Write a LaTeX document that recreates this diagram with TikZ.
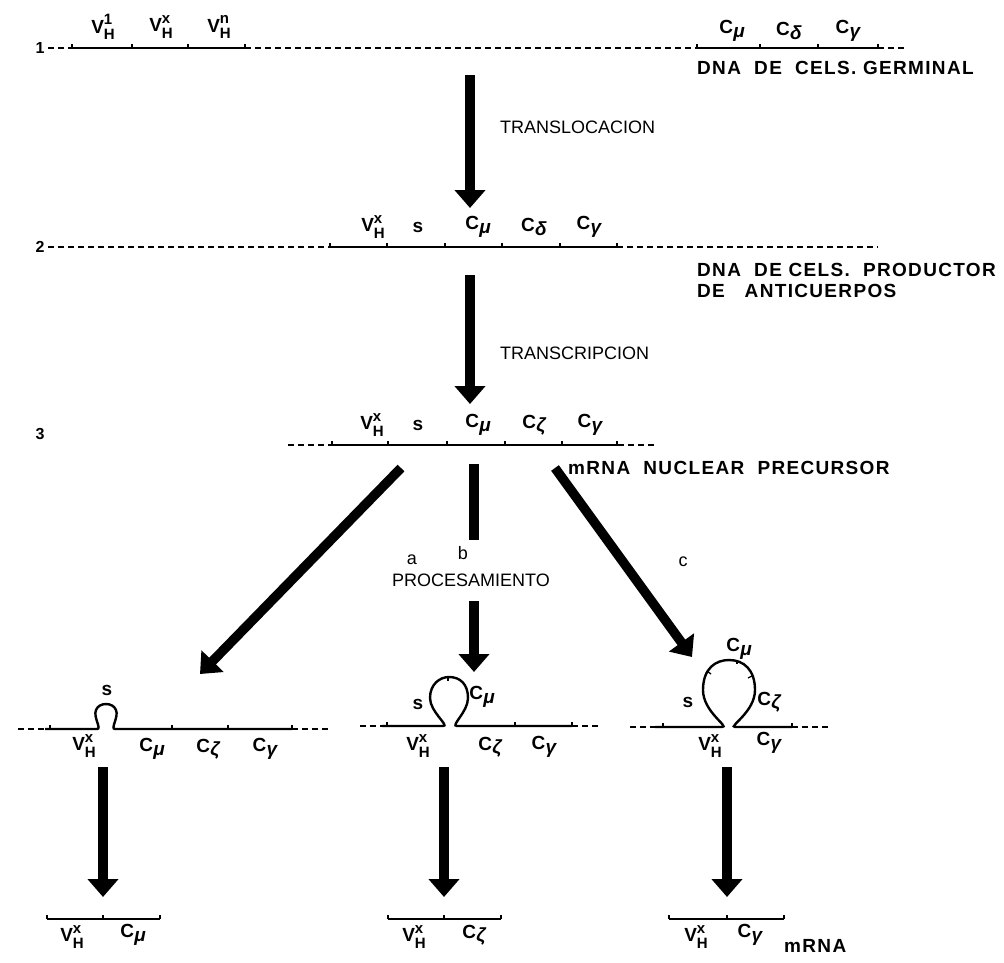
\documentclass[tikz,border=0pt]{standalone}
\usepackage{fontspec}
\setmainfont{Liberation Sans}
\usetikzlibrary{arrows.meta}
\newcommand\Cg[1]{C\kern0.3pt\raisebox{-0.35ex}{\itshape #1}}
\newcommand\Vh[1]{V\kern-0.3pt\rlap{\raisebox{0.85ex}{\fontsize{15}{15}\selectfont #1}}\raisebox{-0.65ex}{\fontsize{15}{15}\selectfont H}}
\begin{document}
\begin{tikzpicture}[x=1pt,y=-1pt,
  dna/.style={line width=2.4pt},
  dnadash/.style={line width=1.1pt,dash pattern=on 6pt off 4pt},
  tickmark/.style={line width=1.3pt},
  bigarrow/.style={line width=9.5pt,-{Triangle[width=30pt,length=18pt]}},
  bigbar/.style={line width=9.5pt},
  gene/.style={font=\fontsize{19}{19}\selectfont\bfseries,inner sep=0pt},
  rowlabel/.style={font=\fontsize{16}{16}\selectfont\bfseries,inner sep=0pt},
  caption/.style={font=\addfontfeature{LetterSpace=7}\fontsize{19}{21}\selectfont\bfseries,inner sep=0pt,anchor=west},
  step label/.style={font=\fontsize{18}{18}\selectfont,inner sep=0pt,anchor=west}]
\useasboundingbox (0,0) rectangle (1004,962);

% ---------- Row 1 ----------
\node[rowlabel] (r1) at (40,48) {1};
\draw[dnadash] (48,48) -- (72,48);
\draw[dna] (72,48) -- (245,48);
\draw[dnadash] (245,48) -- (697,48);
\draw[dna] (697,48) -- (878,48);
\draw[dnadash] (878,48) -- (905,48);
\foreach \x in {72,132,188,245,697,760,818,878} \draw[tickmark] (\x,48) -- (\x,44);
\node[gene] (v1) at (103,27) {\Vh{1}};
\node[gene] (vx) at (161,27) {\Vh{x}};
\node[gene] (vn) at (219,27) {\Vh{n}};
\node[gene] (cmu1) at (732,31) {\Cg{μ}};
\node[gene] (cd1) at (789,31) {\Cg{δ}};
\node[gene] (cg1) at (848,31) {\Cg{γ}};
\node[caption] (germ) at (697,68) {DNA\ \ DE\ \ CELS.\ GERMINAL};

% ---------- Arrow 1 ----------
\coordinate (a1s) at (470,75);
\coordinate (a1e) at (470,208);
\draw[bigarrow] (a1s) -- (a1e);
\node[step label] (transl) at (500,127) {TRANSLOCACION};

% ---------- Row 2 ----------
\node[rowlabel] (r2) at (40,247) {2};
\draw[dnadash] (48,247) -- (328,247);
\draw[dna] (328,247) -- (617,247);
\draw[dnadash] (617,247) -- (878,247);
\foreach \x in {330,387,445,502,560,617} \draw[tickmark] (\x,247) -- (\x,243);
\node[gene] (vx2) at (373,227) {\Vh{x}};
\node[gene] (s2) at (418,227) {s};
\node[gene] (cmu2) at (478,227) {\Cg{μ}};
\node[gene] (cd2) at (534,227) {\Cg{δ}};
\node[gene] (cg2) at (589,227) {\Cg{γ}};
\node[caption] (prod1) at (697,270) {DNA\ \ DE\ CELS.\ \ PRODUCTOR};
\node[caption] (prod2) at (697,291) {DE\ \ \ ANTICUERPOS};

% ---------- Arrow 2 ----------
\coordinate (a2s) at (470,275);
\coordinate (a2e) at (470,404);
\draw[bigarrow] (a2s) -- (a2e);
\node[step label] (transc) at (500,353) {TRANSCRIPCION};

% ---------- Row 3 ----------
\node[rowlabel] (r3) at (40,434) {3};
\draw[dnadash] (288,445) -- (332,445);
\draw[dna] (332,445) -- (618,445);
\draw[dnadash] (618,445) -- (656,445);
\foreach \x in {332,388,447,505,562,617} \draw[tickmark] (\x,445) -- (\x,441);
\node[gene] (vx3) at (372,425) {\Vh{x}};
\node[gene] (s3) at (418,425) {s};
\node[gene] (cmu3) at (478,425) {\Cg{μ}};
\node[gene] (cz3) at (534,425) {\Cg{ζ}};
\node[gene] (cg3) at (590,425) {\Cg{γ}};
\node[caption] (prec) at (568,468) {mRNA\ \ NUCLEAR\ \ PRECURSOR};

% ---------- Branch arrows ----------
\coordinate (bas) at (401,468);
\coordinate (bae) at (200,674);
\draw[bigarrow] (bas) -- (bae);
\node[step label,anchor=center] (la) at (412,560) {a};

\coordinate (bbs) at (474,464);
\coordinate (bbm) at (474,540);
\draw[bigbar] (bbs) -- (bbm);
\node[step label,anchor=center] (lb) at (463,553) {b};
\node[step label,anchor=center] (proc) at (471,580) {PROCESAMIENTO};
\coordinate (bb2s) at (474,601);
\coordinate (bb2e) at (474,672);
\draw[bigarrow] (bb2s) -- (bb2e);

\coordinate (bcs) at (555,468);
\coordinate (bce) at (692,657);
\draw[bigarrow] (bcs) -- (bce);
\node[step label,anchor=center] (lc) at (683,562) {c};

% ---------- Row 4 left (a) ----------
\draw[dnadash] (18,729) -- (45,729);
\draw[dna] (45,729) -- (97,729) .. controls (102,729) and (93,717) .. (96,710)
  .. controls (99,702) and (113,702) .. (116,710)
  .. controls (119,717) and (110,729) .. (115,729) -- (292,729);
\draw[dnadash] (292,729) -- (330,729);
\foreach \x in {50,172,228,292} \draw[tickmark] (\x,729) -- (\x,725);
\node[gene] (sa) at (107,690) {s};
\node[gene] (vxa) at (84,746) {\Vh{x}};
\node[gene] (cmua) at (152,749) {\Cg{μ}};
\node[gene] (cza) at (208,749) {\Cg{ζ}};
\node[gene] (cga) at (265,749) {\Cg{γ}};

% ---------- Row 4 middle (b) ----------
\draw[dnadash] (360,726) -- (382,726);
\draw[dna] (382,726) -- (443,726) .. controls (450,726) and (430,712) .. (430,698)
  .. controls (430,684) and (440,677) .. (449,677)
  .. controls (460,677) and (468,684) .. (468,698)
  .. controls (468,712) and (450,726) .. (457,726) -- (572,726);
\draw[dnadash] (572,726) -- (600,726);
\foreach \x in {387,515,572} \draw[tickmark] (\x,726) -- (\x,722);
\draw[tickmark] (448,677) -- (448,681);
\node[gene] (sb) at (418,704) {s};
\node[gene] (cmub) at (482,697) {\Cg{μ}};
\node[gene] (vxb) at (418,746) {\Vh{x}};
\node[gene] (czb) at (490,747) {\Cg{ζ}};
\node[gene] (cgb) at (544,747) {\Cg{γ}};

% ---------- Row 4 right (c) ----------
\draw[dnadash] (630,727) -- (655,727);
\draw[dna] (655,727) -- (722,727) .. controls (730,727) and (703,712) .. (703,690)
  .. controls (703,668) and (716,660) .. (729,660)
  .. controls (744,660) and (755,670) .. (755,690)
  .. controls (755,712) and (728,727) .. (735,727) -- (792,727);
\draw[dnadash] (792,727) -- (830,727);
\foreach \x in {663,792} \draw[tickmark] (\x,727) -- (\x,723);
\draw[tickmark] (707,671) -- (711,674);
\draw[tickmark] (737,660) -- (737,664);
\draw[tickmark] (752,676) -- (748,678);
\node[gene] (sc) at (688,702) {s};
\node[gene] (cmuc) at (739,649) {\Cg{μ}};
\node[gene] (czc) at (769,702) {\Cg{ζ}};
\node[gene] (vxc) at (710,746) {\Vh{x}};
\node[gene] (cgc) at (769,743) {\Cg{γ}};

% ---------- Final arrows ----------
\coordinate (fas) at (103,767);
\coordinate (fae) at (103,897);
\draw[bigarrow] (fas) -- (fae);
\coordinate (fbs) at (444,767);
\coordinate (fbe) at (444,897);
\draw[bigarrow] (fbs) -- (fbe);
\coordinate (fcs) at (727,767);
\coordinate (fce) at (727,897);
\draw[bigarrow] (fcs) -- (fce);

% ---------- Row 5 ----------
\draw[dna] (47,919) -- (160,919);
\foreach \x in {47,103,160} \draw[tickmark] (\x,919) -- (\x,915);
\node[gene] (vxf1) at (72,937) {\Vh{x}};
\node[gene] (cf1) at (133,935) {\Cg{μ}};

\draw[dna] (388,919) -- (501,919);
\foreach \x in {388,444,501} \draw[tickmark] (\x,919) -- (\x,915);
\node[gene] (vxf2) at (414,937) {\Vh{x}};
\node[gene] (cf2) at (474,935) {\Cg{ζ}};

\draw[dna] (669,919) -- (784,919);
\foreach \x in {669,727,784} \draw[tickmark] (\x,919) -- (\x,915);
\node[gene] (vxf3) at (696,937) {\Vh{x}};
\node[gene] (cf3) at (750,935) {\Cg{γ}};
\node[caption] (mrna) at (784,946) {mRNA};
\end{tikzpicture}
\end{document}
